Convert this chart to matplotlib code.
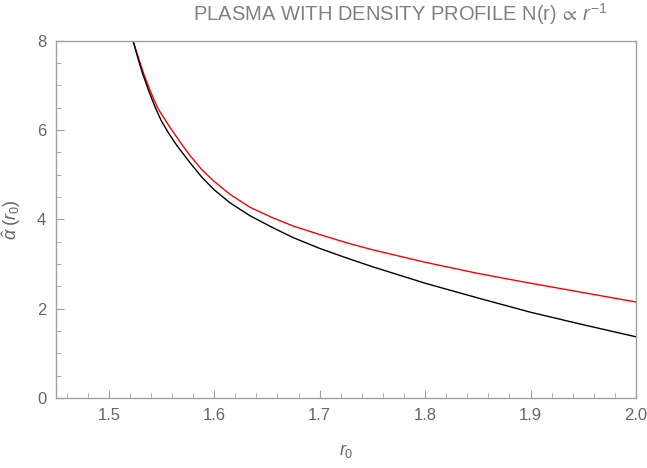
import numpy as np
import matplotlib
matplotlib.use("Agg")
from matplotlib import pyplot as plt
from matplotlib.ticker import MultipleLocator

plt.rcParams['font.family'] = ['Liberation Sans', 'DejaVu Sans']
plt.rcParams['mathtext.fontset'] = 'custom'
plt.rcParams['mathtext.rm'] = 'Liberation Sans'
plt.rcParams['mathtext.it'] = 'Liberation Sans:italic'
plt.rcParams['mathtext.fallback'] = 'stixsans'

# deflection angle, black curve
r0_black = [1.523, 1.528, 1.532, 1.538, 1.544, 1.550, 1.557, 1.565, 1.577,
            1.588, 1.600, 1.615, 1.634, 1.655, 1.675, 1.700, 1.725, 1.750,
            1.800, 1.850, 1.900, 1.950, 2.000]
alpha_black = [8.00, 7.58, 7.27, 6.87, 6.51, 6.20, 5.92, 5.64, 5.27,
               4.95, 4.66, 4.37, 4.08, 3.82, 3.59, 3.35, 3.14, 2.94,
               2.57, 2.24, 1.92, 1.64, 1.37]

# deflection angle, red curve
r0_red = [1.523, 1.528, 1.533, 1.539, 1.546, 1.552, 1.559, 1.568, 1.577,
          1.588, 1.600, 1.615, 1.634, 1.655, 1.675, 1.700, 1.725, 1.750,
          1.800, 1.850, 1.900, 1.950, 2.000]
alpha_red = [8.00, 7.63, 7.27, 6.90, 6.51, 6.28, 6.03, 5.72, 5.43,
             5.12, 4.85, 4.56, 4.27, 4.04, 3.85, 3.66, 3.48, 3.32,
             3.04, 2.79, 2.57, 2.36, 2.15]

xticks = [1.5, 1.6, 1.7, 1.8, 1.9, 2.0]
yticks = [0, 2, 4, 6, 8]

cinza = '#666666'
moldura = '#a0a0a0'

fig = plt.figure(figsize=(6.47, 4.68), dpi=100)
ax = fig.add_axes([0.0866, 0.1496, 0.8964, 0.7634])

ax.plot(r0_red, alpha_red, c='#ff0000', lw=1.0)
ax.plot(r0_black, alpha_black, c='black', lw=1.0)

ax.set_xlim(1.45, 2.0)
ax.set_ylim(0, 8)
ax.set_xticks(xticks)
ax.set_xticklabels(['%.1f' % v for v in xticks])
ax.set_yticks(yticks)
ax.xaxis.set_minor_locator(MultipleLocator(0.02))
ax.yaxis.set_minor_locator(MultipleLocator(0.5))

ax.tick_params(which='both', direction='in', colors=moldura, labelcolor=cinza,
               labelsize=12, top=False, right=False)
ax.tick_params(which='major', length=6, width=0.8, pad=7)
ax.tick_params(which='minor', length=3.5, width=0.6)
for s in ax.spines.values():
    s.set_color(moldura)
    s.set_linewidth(1.0)

ax.set_xlabel(r'$r_0$', fontsize=13, color=cinza, labelpad=14)
ax.set_ylabel(r'$\hat{\alpha}\;(r_0)$', fontsize=13, color=cinza, labelpad=10)

fig.text(400 / 647, 1 - 14 / 468, r'PLASMA WITH DENSITY PROFILE N(r)$\,\propto\,r^{-1}$',
         ha='center', va='center', fontsize=14.5, color='#808080')

fig.savefig('out.png', dpi=100)
